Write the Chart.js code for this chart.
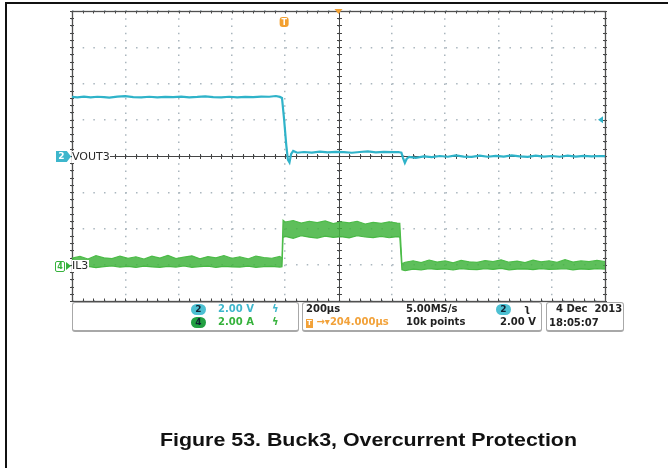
<!DOCTYPE html>
<html>
<head>
<meta charset="utf-8">
<script src="https://cdn.jsdelivr.net/npm/chart.js@4.4.0/dist/chart.umd.min.js"></script>
<style>
  body { margin: 0; background: #fff; }
  #wrap { position: relative; width: 668px; height: 468px; overflow: hidden; }
  #scope { position: absolute; left: 0; top: 0; }
  .abs { position: absolute; white-space: nowrap; }
  #frame { left: 5px; top: 2px; width: 700px; height: 500px; border-left: 2px solid #111; border-top: 2px solid #111; }
  .box { position: absolute; top: 302px; height: 27px; border: 1.5px solid #a8a8a8; border-bottom-width: 2.5px; border-radius: 3px; }
  .t { font: bold 10px "DejaVu Sans"; line-height: 12px; color: #222; }
  .cy { color: #3db6cc; }
  .gr { color: #36b23c; }
  .or { color: #f2a23a; }
  .pill { display: inline-block; width: 15px; height: 11px; border-radius: 6px; text-align: center; font: bold 9px "DejaVu Sans"; line-height: 11px; color: #123; }
  .lbl { font: 11px "DejaVu Sans"; line-height: 12px; color: #2a2a2a; background: #fff; }
  #caption { left: 160px; top: 430px; font: bold 19px "Liberation Sans", Arial, sans-serif; line-height: 19px; color: #111; transform: scaleX(1.125); transform-origin: left top; }
</style>
</head>
<body>
<div id="wrap">
  <canvas id="scope" width="668" height="468"></canvas>
  <div id="frame" class="abs"></div>

  <!-- channel ground markers -->
  <div class="abs" style="left:56px;top:151px;width:15px;height:11px;background:#3db6cc;clip-path:polygon(0 0,72% 0,100% 50%,72% 100%,0 100%);"></div>
  <div class="abs" style="left:56px;top:151px;width:11px;font:bold 9px 'DejaVu Sans';line-height:11px;color:#fff;text-align:center;">2</div>
  <div class="abs lbl" style="left:72px;top:151px;">VOUT3</div>

  <div class="abs" style="left:55px;top:261px;width:8px;height:9px;border:1.5px solid #36b23c;border-radius:2px;font:bold 8px 'DejaVu Sans';line-height:9px;color:#36b23c;text-align:center;">4</div>
  <div class="abs" style="left:66px;top:262px;width:0;height:0;border-top:4px solid transparent;border-bottom:4px solid transparent;border-left:5px solid #36b23c;"></div>
  <div class="abs lbl" style="left:72px;top:260px;padding-right:1px;">IL3</div>

  <!-- readout panel -->
  <div class="box" style="left:72px;width:225px;"></div>
  <div class="box" style="left:302px;width:238px;"></div>
  <div class="box" style="left:546px;width:76px;"></div>

  <div class="abs t" style="left:191px;top:303px;"><span class="pill" style="background:#4cc0d2;">2</span></div>
  <div class="abs t cy" style="left:218px;top:303px;">2.00 V</div>
  <div class="abs t cy" style="left:272px;top:303px;">ϟ</div>
  <div class="abs t" style="left:191px;top:316px;"><span class="pill" style="background:#23a043;">4</span></div>
  <div class="abs t gr" style="left:218px;top:316px;">2.00 A</div>
  <div class="abs t gr" style="left:272px;top:316px;">ϟ</div>

  <div class="abs t" style="left:306px;top:303px;">200µs</div>
  <div class="abs t" style="left:406px;top:303px;">5.00MS/s</div>
  <div class="abs t" style="left:496px;top:303px;"><span class="pill" style="background:#4cc0d2;">2</span></div>
  <div class="abs t" style="left:524px;top:303px;">ʅ</div>
  <div class="abs t or" style="left:306px;top:316px;"><span style="display:inline-block;width:7px;height:9px;background:#f2a23a;color:#fff;font-size:7px;line-height:9px;text-align:center;">T</span> →▾204.000µs</div>
  <div class="abs t" style="left:406px;top:316px;">10k points</div>
  <div class="abs t" style="left:500px;top:316px;">2.00 V</div>

  <div class="abs t" style="left:556px;top:303px;">4 Dec&nbsp;&nbsp;2013</div>
  <div class="abs t" style="left:549px;top:317px;">18:05:07</div>

  <div id="caption" class="abs">Figure 53. Buck3, Overcurrent Protection</div>
</div>

<script>
// scope settings
const usPerDiv = 200;
const voltsPerDiv = 2;
const ampsPerDiv = 2;
const il3OffsetDiv = -3;
const trigTime = 796;   // µs from left edge of screen
const trigLevel = 2.0;  // V on channel 2

// VOUT3 (channel 2), V vs µs
const vTime = [0,20,45,70,95,120,140,170,200,230,260,290,320,350,380,410,440,470,500,530,
  560,590,620,650,680,710,740,765,780,788,796,804,810,816,822,830,845,
  870,900,930,960,990,1020,1050,1080,1110,1140,1170,1200,1225,1236,1242,1249,1256,1265,
  1290,1320,1350,1380,1410,1440,1470,1500,1530,1560,1590,1620,1650,1680,1710,1740,1770,1800,1830,1860,
  1890,1920,1950,1980,2000];
const vOut = [3.26,3.24,3.28,3.23,3.27,3.25,3.22,3.28,3.30,3.25,3.24,3.27,3.23,3.26,3.25,3.28,3.24,3.26,3.29,3.25,
  3.23,3.27,3.24,3.26,3.25,3.28,3.27,3.31,3.26,3.20,2.00,0.60,-0.20,-0.35,0.10,0.28,0.18,
  0.22,0.19,0.24,0.20,0.23,0.21,0.18,0.22,0.25,0.20,0.23,0.21,0.22,0.18,-0.10,-0.38,-0.15,-0.05,
  -0.10,-0.02,-0.06,0.00,-0.04,0.03,-0.03,-0.05,0.02,-0.04,0.01,-0.03,0.03,-0.02,-0.05,0.02,-0.03,0.00,-0.04,0.02,
  -0.03,0.01,-0.02,0.00,-0.01];

// IL3 (channel 4), noise envelope in A vs µs
const ilTime = [0,30,60,90,120,150,180,210,240,270,300,330,360,390,420,450,480,510,540,570,600,630,660,690,720,750,780,788,
  792,800,830,860,890,920,950,980,1010,1040,1070,1100,1130,1160,1190,1220,1230,
  1238,1250,1280,1310,1340,1370,1400,1430,1460,1490,1520,1550,1580,1610,1640,1670,1700,1730,1760,1790,1820,1850,1880,1910,1940,1970,2000];
const ilUpper = [0.36,0.46,0.32,0.50,0.38,0.34,0.48,0.35,0.44,0.31,0.47,0.37,0.52,0.34,0.42,0.49,0.33,0.45,0.38,0.51,0.35,0.44,0.32,0.48,0.40,0.36,0.46,0.34,
  2.46,2.36,2.44,2.30,2.40,2.33,2.42,2.27,2.36,2.31,2.40,2.25,2.34,2.28,2.37,2.30,2.29,
  0.05,0.14,0.22,0.12,0.26,0.15,0.21,0.11,0.24,0.16,0.13,0.23,0.17,0.27,0.14,0.20,0.12,0.25,0.16,0.22,0.13,0.28,0.15,0.21,0.17,0.24,0.18];
const ilLower = [-0.08,-0.14,-0.09,-0.16,-0.10,-0.07,-0.13,-0.09,-0.15,-0.08,-0.12,-0.14,-0.09,-0.13,-0.07,-0.14,-0.10,-0.08,-0.15,-0.09,-0.12,-0.13,-0.08,-0.14,-0.10,-0.09,-0.13,-0.11,
  1.50,1.56,1.46,1.60,1.52,1.47,1.58,1.51,1.55,1.48,1.60,1.53,1.50,1.57,1.49,1.55,1.52,
  -0.28,-0.33,-0.24,-0.28,-0.22,-0.26,-0.23,-0.29,-0.21,-0.25,-0.27,-0.22,-0.26,-0.20,-0.28,-0.24,-0.23,-0.27,-0.21,-0.25,-0.24,-0.22,-0.28,-0.23,-0.26,-0.21,-0.24];

const toDiv = (times, vals, perDiv, offset) => times.map((t, i) => ({ x: t, y: vals[i] / perDiv + offset }));

const cyan = '#2fb3c9';
const green = '#4cbc48';

// graticule: solid center cross, minor ticks, frame, markers
const graticule = {
  id: 'graticule',
  beforeDatasetsDraw(c) {
    const { ctx, chartArea: a, scales: { x, y } } = c;
    const cx = Math.round(x.getPixelForValue(1000)) + 0.5;
    const cy = Math.round(y.getPixelForValue(0)) + 0.5;
    ctx.save();
    ctx.strokeStyle = '#454545';
    ctx.lineWidth = 1;
    ctx.beginPath();
    ctx.moveTo(a.left, cy); ctx.lineTo(a.right, cy);
    ctx.moveTo(cx, a.top); ctx.lineTo(cx, a.bottom);
    for (let t = 0; t <= 2000; t += usPerDiv / 5) {
      const px = Math.round(x.getPixelForValue(t)) + 0.5;
      ctx.moveTo(px, cy - 2.5); ctx.lineTo(px, cy + 2.5);
      ctx.moveTo(px, a.top); ctx.lineTo(px, a.top + 2.5);
      ctx.moveTo(px, a.bottom); ctx.lineTo(px, a.bottom - 2.5);
    }
    for (let d = -4; d <= 4.001; d += 0.2) {
      const py = Math.round(y.getPixelForValue(d)) + 0.5;
      ctx.moveTo(cx - 2.5, py); ctx.lineTo(cx + 2.5, py);
      ctx.moveTo(a.left - 2, py); ctx.lineTo(a.left + 2, py);
      ctx.moveTo(a.right - 2, py); ctx.lineTo(a.right + 2, py);
    }
    ctx.stroke();
    ctx.strokeStyle = '#505050';
    ctx.lineWidth = 1.3;
    ctx.strokeRect(a.left + 0.5, a.top + 0.5, a.right - a.left, a.bottom - a.top);
    ctx.restore();
  },
  afterDatasetsDraw(c) {
    const { ctx, chartArea: a, scales: { x, y } } = c;
    ctx.save();
    // trigger position
    const tx = x.getPixelForValue(trigTime);
    ctx.fillStyle = '#f3a030';
    ctx.beginPath();
    ctx.roundRect(tx - 4.5, 17, 9, 10, 3);
    ctx.fill();
    ctx.fillStyle = '#fff';
    ctx.font = 'bold 8px "DejaVu Sans"';
    ctx.textAlign = 'center';
    ctx.textBaseline = 'middle';
    ctx.fillText('T', tx, 22.5);
    // horizontal position marker
    const hx = x.getPixelForValue(1000);
    ctx.fillStyle = '#f3a030';
    ctx.beginPath();
    ctx.moveTo(hx - 4, a.top - 2); ctx.lineTo(hx + 4, a.top - 2); ctx.lineTo(hx, a.top + 3);
    ctx.closePath(); ctx.fill();
    // trigger level marker
    const ly = y.getPixelForValue(trigLevel / voltsPerDiv);
    ctx.fillStyle = cyan;
    ctx.beginPath();
    ctx.moveTo(a.right - 7, ly); ctx.lineTo(a.right - 2, ly - 3.5); ctx.lineTo(a.right - 2, ly + 3.5);
    ctx.closePath(); ctx.fill();
    ctx.restore();
  }
};

new Chart(document.getElementById('scope'), {
  type: 'line',
  data: {
    datasets: [
      {
        label: 'VOUT3',
        data: toDiv(vTime, vOut, voltsPerDiv, 0),
        borderColor: cyan,
        borderWidth: 2.2,
        pointRadius: 0,
        fill: false
      },
      {
        label: 'IL3',
        data: toDiv(ilTime, ilUpper, ampsPerDiv, il3OffsetDiv),
        borderColor: green,
        borderWidth: 1.2,
        pointRadius: 0,
        backgroundColor: 'rgba(66,180,62,0.85)',
        fill: '+1'
      },
      {
        label: 'IL3 low',
        data: toDiv(ilTime, ilLower, ampsPerDiv, il3OffsetDiv),
        borderColor: green,
        borderWidth: 1.2,
        pointRadius: 0,
        fill: false
      }
    ]
  },
  options: {
    responsive: false,
    animation: false,
    layout: { padding: { left: 72, right: 63, top: 11, bottom: 167 } },
    plugins: { legend: { display: false }, tooltip: { enabled: false } },
    scales: {
      x: {
        type: 'linear', min: 0, max: 2000,
        ticks: { display: false, stepSize: usPerDiv },
        grid: { color: '#aab6be', lineWidth: 1.5, drawTicks: false },
        border: { display: false, dash: [1.5, 5.75] },
        afterFit: s => { s.height = 0; }
      },
      y: {
        min: -4, max: 4,
        ticks: { display: false, stepSize: 1 },
        grid: { color: '#aab6be', lineWidth: 1.5, drawTicks: false },
        border: { display: false, dash: [1.5, 9.17] },
        afterFit: s => { s.width = 0; }
      }
    }
  },
  plugins: [graticule]
});
</script>
</body>
</html>
